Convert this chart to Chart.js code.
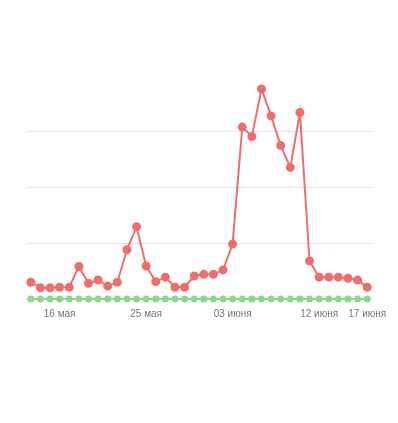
<!DOCTYPE html>
<html>
<head>
<meta charset="utf-8">
<script src="https://cdn.jsdelivr.net/npm/chart.js@4"></script>
<style>
  html, body { margin: 0; padding: 0; background: #fff; }
  #wrap { width: 398px; height: 423px; position: relative; }
</style>
</head>
<body>
<div id="wrap"><canvas id="chart"></canvas></div>
<script>
// Дни с 13 мая по 17 июня
const labels = [
    '13 мая', '14 мая', '15 мая', '16 мая', '17 мая', '18 мая', '19 мая', '20 мая', '21 мая',
    '22 мая', '23 мая', '24 мая', '25 мая', '26 мая', '27 мая', '28 мая', '29 мая', '30 мая',
    '31 мая', '01 июня', '02 июня', '03 июня', '04 июня', '05 июня', '06 июня', '07 июня',
    '08 июня', '09 июня', '10 июня', '11 июня', '12 июня', '13 июня', '14 июня', '15 июня',
    '16 июня', '17 июня'
];
const shownLabels = ['16 мая', '25 мая', '03 июня', '12 июня', '17 июня'];

const redValues = [
    30, 20, 20, 21, 21, 58, 28, 34, 23, 30, 88, 129,
    59, 31, 39, 21, 21, 41, 44, 44, 52, 98, 307, 290,
    375, 327, 274, 235, 333, 68, 39, 39, 39, 37, 34, 21
];
const greenValues = [
    0, 0, 0, 0, 0, 0, 0, 0, 0, 0, 0, 0,
    0, 0, 0, 0, 0, 0, 0, 0, 0, 0, 0, 0,
    0, 0, 0, 0, 0, 0, 0, 0, 0, 0, 0, 0
];

const yMax = 400;

new Chart(document.getElementById('chart'), {
    type: 'line',
    data: {
        labels: labels,
        datasets: [
            {
                data: redValues,
                borderColor: '#ee6d6d',
                backgroundColor: '#ee6d6d',
                borderWidth: 2,
                pointRadius: 3.5,
                pointHoverRadius: 4,
                tension: 0,
                fill: false,
                clip: false
            },
            {
                data: greenValues,
                borderColor: '#8fd58f',
                backgroundColor: '#8fd58f',
                borderWidth: 2,
                pointRadius: 2.5,
                tension: 0,
                fill: false,
                clip: false
            }
        ]
    },
    options: {
        responsive: true,
        maintainAspectRatio: false,
        animation: false,
        layout: { padding: { left: 26, right: 26, top: 75, bottom: 94 } },
        plugins: { legend: { display: false }, tooltip: { enabled: false } },
        scales: {
            x: {
                offset: true,
                grid: { display: false, drawTicks: false },
                border: { display: false },
                ticks: {
                    autoSkip: false,
                    maxRotation: 0,
                    padding: 9,
                    color: '#777',
                    font: { family: 'Arial, "Liberation Sans", sans-serif', size: 10 },
                    callback: function(value, index) {
                        const l = labels[index];
                        return shownLabels.includes(l) ? l : '';
                    }
                }
            },
            y: {
                display: true,
                min: 0,
                max: yMax,
                ticks: { display: false, stepSize: 100 },
                border: { display: false },
                grid: {
                    drawTicks: false,
                    color: ctx => ctx.tick.value === yMax ? 'rgba(0,0,0,0)' : '#e6e6e6',
                    lineWidth: 1
                }
            }
        }
    }
});
</script>
</body>
</html>
